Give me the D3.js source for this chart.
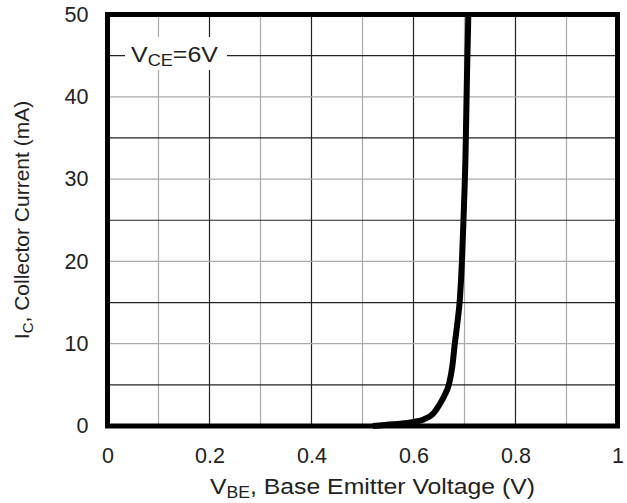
<!DOCTYPE html>
<html>
<head>
<meta charset="utf-8">
<script src="https://cdn.jsdelivr.net/npm/d3@7"></script>
<style>
    body { margin: 0; background: #fff; }
    svg { display: block; font-family: "Liberation Sans", Arial, sans-serif; }
    .tick text { fill: #222; }
</style>
</head>
<body>
<svg id="chart" width="627" height="503"></svg>
<script>
// I_C vs V_BE, V_CE = 6V
const vbe = [0.52, 0.56, 0.60, 0.62, 0.64, 0.65, 0.66, 0.67, 0.676, 0.681, 0.686, 0.691, 0.695, 0.698, 0.702, 0.705, 0.7075];
const ic = [0, 0.2, 0.5, 0.8, 1.6, 2.5, 3.6, 5.2, 7.2, 10, 12.5, 15.5, 20, 25, 33, 43, 50];

const xTicks = [0, 0.2, 0.4, 0.6, 0.8, 1];
const yTicks = [0, 10, 20, 30, 40, 50];
const xGrid = [0.1, 0.2, 0.3, 0.4, 0.5, 0.6, 0.7, 0.8, 0.9];
const yGrid = [5, 10, 15, 20, 25, 30, 35, 40, 45];

const L = 107.5, R = 617.5, T = 14.5, B = 426;

const svg = d3.select('#chart');

const x = d3.scaleLinear().domain([0, 1]).range([L, R]);
const y = d3.scaleLinear().domain([0, 50]).range([B, T]);

// grid: even tenths dark, odd tenths grey; odd fives dark, tens grey
const grid = svg.append('g').attr('class', 'grid');
grid.selectAll('line.vx')
    .data(xGrid)
    .enter()
    .append('line')
    .attr('x1', d => x(d)).attr('x2', d => x(d))
    .attr('y1', T).attr('y2', B)
    .attr('stroke', d => Math.round(d * 10) % 2 === 0 ? '#222' : '#aaa')
    .attr('stroke-width', 1.2);
grid.selectAll('line.hy')
    .data(yGrid)
    .enter()
    .append('line')
    .attr('y1', d => y(d)).attr('y2', d => y(d))
    .attr('x1', L).attr('x2', R)
    .attr('stroke', d => d % 10 === 0 ? '#aaa' : '#222')
    .attr('stroke-width', 1.2);

// legend box
const leg = svg.append('g');
leg.append('rect')
    .attr('x', 125).attr('y', 37)
    .attr('width', 102).attr('height', 33)
    .attr('fill', '#fff');
const lt = leg.append('text')
    .attr('x', 131).attr('y', 62)
    .attr('font-size', 22)
    .attr('textLength', 87)
    .attr('lengthAdjust', 'spacingAndGlyphs')
    .attr('fill', '#222');
lt.append('tspan').text('V');
lt.append('tspan').attr('font-size', 16).attr('dy', 4).text('CE');
lt.append('tspan').attr('dy', -4).text('=6V');

// curve
const pts = vbe.map((v, i) => [v, ic[i]]);
svg.append('path')
    .datum(pts)
    .attr('fill', 'none')
    .attr('stroke', '#000')
    .attr('stroke-width', 6)
    .attr('stroke-linejoin', 'round')
    .attr('d', d3.line()
        .x(d => x(d[0]))
        .y(d => y(d[1]))
        .curve(d3.curveMonotoneX));

// frame
svg.append('rect')
    .attr('x', L).attr('y', T)
    .attr('width', R - L).attr('height', B - T)
    .attr('fill', 'none')
    .attr('stroke', '#000')
    .attr('stroke-width', 5);

// axes (labels only)
const xAxis = svg.append('g')
    .attr('transform', `translate(0, ${B})`)
    .call(d3.axisBottom(x).tickValues(xTicks).tickSize(0).tickPadding(22).tickFormat(d3.format('~g')));
const yAxis = svg.append('g')
    .attr('transform', `translate(${L}, 0)`)
    .call(d3.axisLeft(y).tickValues(yTicks).tickSize(0).tickPadding(19));
[xAxis, yAxis].forEach(a => {
    a.select('.domain').remove();
    a.selectAll('text').attr('font-size', 21.5).attr('font-family', null);
});

// axis titles
const xt = svg.append('text')
    .attr('x', 210).attr('y', 494)
    .attr('font-size', 22.5)
    .attr('textLength', 325)
    .attr('lengthAdjust', 'spacingAndGlyphs')
    .attr('fill', '#222');
xt.append('tspan').text('V');
xt.append('tspan').attr('font-size', 16).attr('dy', 4).text('BE');
xt.append('tspan').attr('dy', -4).text(', Base Emitter Voltage (V)');

const yt = svg.append('text')
    .attr('transform', 'translate(29, 220) rotate(-90)')
    .attr('text-anchor', 'middle')
    .attr('font-size', 21)
    .attr('fill', '#222');
yt.append('tspan').text('I');
yt.append('tspan').attr('font-size', 15).attr('dy', 4).text('C');
yt.append('tspan').attr('dy', -4).text(', Collector Current (mA)');
</script>
</body>
</html>
